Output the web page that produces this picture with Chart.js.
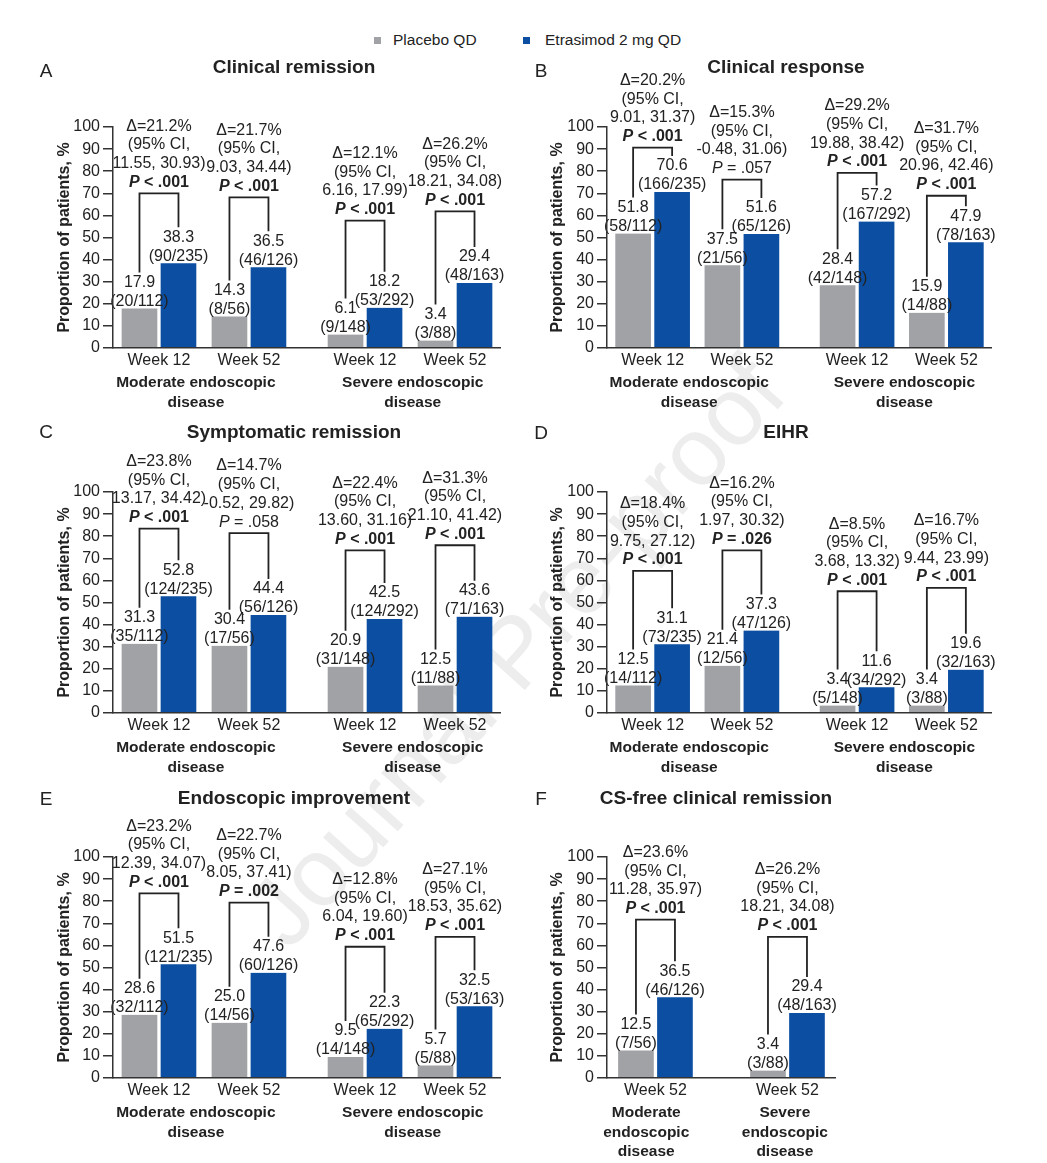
<!DOCTYPE html>
<html>
<head>
<meta charset="utf-8">
<script src="https://cdn.jsdelivr.net/npm/chart.js@4.4.0/dist/chart.umd.min.js"></script>
<style>
  body { margin: 0; background: #fff; }
  #page { position: relative; width: 1047px; height: 1163px; overflow: hidden; font-family: 'Liberation Sans', Arial, sans-serif; color: #222; }
  canvas { position: absolute; z-index: 1; }
  #watermark { position: absolute; left: 140px; top: 597px; font-size: 97px; line-height: 110px; white-space: nowrap; color: #ededed; transform: rotate(-48deg); transform-origin: 50% 50%; z-index: 0; }
  .key { position: absolute; top: 37px; width: 7px; height: 7px; }
  .keyText { position: absolute; top: 30px; font-size: 15.5px; line-height: 20px; }
</style>
</head>
<body>
<div id="page">
  <div id="watermark">Journal Pre-proof</div>
  <div class="key" style="left:374px;background:#a1a2a6"></div>
  <div class="keyText" style="left:393px">Placebo QD</div>
  <div class="key" style="left:523px;background:#0b4ea2"></div>
  <div class="keyText" style="left:545px">Etrasimod 2 mg QD</div>
  <canvas id="chartA" width="520" height="370" style="left:0px;top:50px"></canvas>
  <canvas id="chartB" width="527" height="370" style="left:520px;top:50px"></canvas>
  <canvas id="chartC" width="520" height="370" style="left:0px;top:415px"></canvas>
  <canvas id="chartD" width="527" height="370" style="left:520px;top:415px"></canvas>
  <canvas id="chartE" width="520" height="383" style="left:0px;top:780px"></canvas>
  <canvas id="chartF" width="527" height="383" style="left:520px;top:780px"></canvas>
</div>
<script>
const weekLabels = ['Week 12', 'Week 52', 'Week 12', 'Week 52'];
const groupLabels = [['Moderate endoscopic', 'disease'], ['Severe endoscopic', 'disease']];
const csFreeWeekLabels = ['Week 52', 'Week 52'];
const csFreeGroupLabels = [['Moderate', 'endoscopic', 'disease'], ['Severe', 'endoscopic', 'disease']];

// A - Clinical remission
const remissionPlacebo = [17.9, 14.3, 6.1, 3.4];
const remissionPlaceboN = ['20/112', '8/56', '9/148', '3/88'];
const remissionEtrasimod = [38.3, 36.5, 18.2, 29.4];
const remissionEtrasimodN = ['90/235', '46/126', '53/292', '48/163'];
const remissionDelta = [21.2, 21.7, 12.1, 26.2];
const remissionCI = [[11.55, 30.93], [9.03, 34.44], [6.16, 17.99], [18.21, 34.08]];
const remissionP = ['< .001', '< .001', '< .001', '< .001'];
const remissionBracket = [70, 68.2, 57.6, 61.8];

// B - Clinical response
const responsePlacebo = [51.8, 37.5, 28.4, 15.9];
const responsePlaceboN = ['58/112', '21/56', '42/148', '14/88'];
const responseEtrasimod = [70.6, 51.6, 57.2, 47.9];
const responseEtrasimodN = ['166/235', '65/126', '167/292', '78/163'];
const responseDelta = [20.2, 15.3, 29.2, 31.7];
const responseCI = [[9.01, 31.37], [-0.48, 31.06], [19.88, 38.42], [20.96, 42.46]];
const responseP = ['< .001', '= .057', '< .001', '< .001'];
const responseBracket = [90.7, 76.2, 79.2, 68.9];

// C - Symptomatic remission
const symptomPlacebo = [31.3, 30.4, 20.9, 12.5];
const symptomPlaceboN = ['35/112', '17/56', '31/148', '11/88'];
const symptomEtrasimod = [52.8, 44.4, 42.5, 43.6];
const symptomEtrasimodN = ['124/235', '56/126', '124/292', '71/163'];
const symptomDelta = [23.8, 14.7, 22.4, 31.3];
const symptomCI = [[13.17, 34.42], [-0.52, 29.82], [13.60, 31.16], [21.10, 41.42]];
const symptomP = ['< .001', '= .058', '< .001', '< .001'];
const symptomBracket = [83.4, 81.4, 73.6, 75.9];

// D - EIHR
const eihrPlacebo = [12.5, 21.4, 3.4, 3.4];
const eihrPlaceboN = ['14/112', '12/56', '5/148', '3/88'];
const eihrEtrasimod = [31.1, 37.3, 11.6, 19.6];
const eihrEtrasimodN = ['73/235', '47/126', '34/292', '32/163'];
const eihrDelta = [18.4, 16.2, 8.5, 16.7];
const eihrCI = [[9.75, 27.12], [1.97, 30.32], [3.68, 13.32], [9.44, 23.99]];
const eihrP = ['< .001', '= .026', '< .001', '< .001'];
const eihrBracket = [64.3, 73.6, 55.1, 56.6];

// E - Endoscopic improvement
const endoPlacebo = [28.6, 25.0, 9.5, 5.7];
const endoPlaceboN = ['32/112', '14/56', '14/148', '5/88'];
const endoEtrasimod = [51.5, 47.6, 22.3, 32.5];
const endoEtrasimodN = ['121/235', '60/126', '65/292', '53/163'];
const endoDelta = [23.2, 22.7, 12.8, 27.1];
const endoCI = [[12.39, 34.07], [8.05, 37.41], [6.04, 19.60], [18.53, 35.62]];
const endoP = ['< .001', '= .002', '< .001', '< .001'];
const endoBracket = [83.5, 79.4, 59.4, 63.9];

// F - CS-free clinical remission
const csFreePlacebo = [12.5, 3.4];
const csFreePlaceboN = ['7/56', '3/88'];
const csFreeEtrasimod = [36.5, 29.4];
const csFreeEtrasimodN = ['46/126', '48/163'];
const csFreeDelta = [23.6, 26.2];
const csFreeCI = [[11.28, 35.97], [18.21, 34.08]];
const csFreeP = ['< .001', '< .001'];
const csFreeBracket = [71.7, 63.9];

const FONT = "'Liberation Sans', Arial, sans-serif";
const GRAY = '#a1a2a6';
const BLUE = '#0b4ea2';
const INK = '#222';

Chart.defaults.font.family = FONT;
Chart.defaults.color = INK;

// category centres on the x axis (wider gap between moderate and severe)
const fourPos = [0, 1, 2.29, 3.29];
const twoPos = [0, 1];

function annotatePlugin(p) {
    return {
        id: 'annotate',
        afterDatasetsDraw(chart) {
            const ctx = chart.ctx;
            const yScale = chart.scales.y;
            const grayBars = chart.getDatasetMeta(0).data;
            const blueBars = chart.getDatasetMeta(1).data;
            ctx.save();
            ctx.fillStyle = INK;
            ctx.strokeStyle = INK;
            ctx.textAlign = 'center';
            ctx.textBaseline = 'middle';
            grayBars.forEach((g, i) => {
                const b = blueBars[i];
                ctx.font = '16px ' + FONT;
                [[g, p.placebo[i], p.placeboN[i]], [b, p.etrasimod[i], p.etrasimodN[i]]].forEach(([bar, v, n]) => {
                    ctx.fillText(v.toFixed(1), bar.x, bar.y - 26);
                    ctx.fillText('(' + n + ')', bar.x, bar.y - 7);
                });

                // bracket
                const top = yScale.getPixelForValue(p.bracket[i]);
                ctx.beginPath();
                ctx.moveTo(g.x, g.y - 36);
                ctx.lineTo(g.x, top);
                ctx.lineTo(b.x, top);
                ctx.lineTo(b.x, b.y - 36);
                ctx.lineWidth = 1.8;
                ctx.stroke();

                // difference, CI and P value above the bracket
                const cx = (g.x + b.x) / 2;
                const lines = [
                    'Δ=' + p.delta[i].toFixed(1) + '%',
                    '(95% CI,',
                    p.ci[i][0].toFixed(2) + ', ' + p.ci[i][1].toFixed(2) + ')'
                ];
                lines.forEach((t, k) => ctx.fillText(t, cx, top - 11 - (3 - k) * 18.7));

                const rest = ' ' + p.p[i];
                const sig = parseFloat(p.p[i].replace(/[^0-9.]/g, '')) < 0.05;
                const weight = sig ? 'bold ' : '';
                const fontP = 'italic ' + weight + '16px ' + FONT;
                const fontRest = weight + '16px ' + FONT;
                ctx.font = fontP;
                const wP = ctx.measureText('P').width;
                ctx.font = fontRest;
                const wRest = ctx.measureText(rest).width;
                const x0 = cx - (wP + wRest) / 2;
                ctx.textAlign = 'left';
                ctx.font = fontP;
                ctx.fillText('P', x0, top - 11);
                ctx.font = fontRest;
                ctx.fillText(rest, x0 + wP, top - 11);
                ctx.textAlign = 'center';
            });
            ctx.restore();
        },
        afterDraw(chart) {
            const ctx = chart.ctx;
            const area = chart.chartArea;
            const xScale = chart.scales.x;
            ctx.save();
            ctx.fillStyle = INK;
            ctx.textAlign = 'center';
            ctx.textBaseline = 'middle';
            ctx.font = 'bold 19px ' + FONT;
            ctx.fillText(p.title, p.titleX, p.titleY);
            ctx.font = '19px ' + FONT;
            ctx.fillText(p.letter, p.letterX, p.letterY);
            ctx.font = 'bold 15.5px ' + FONT;
            p.groups.forEach((lines, g) => {
                const gx = xScale.getPixelForValue(p.groupPos[g]);
                lines.forEach((t, k) => ctx.fillText(t, gx, area.bottom + 35 + k * 19.5));
            });
            ctx.restore();
        }
    };
}

function makePanel(id, p) {
    const canvas = document.getElementById(id);
    const pos = p.positions;
    return new Chart(canvas, {
        type: 'bar',
        data: {
            datasets: [{
                label: 'Placebo QD',
                data: pos.map((x, i) => ({ x: x, y: p.placebo[i] })),
                backgroundColor: GRAY
            }, {
                label: 'Etrasimod 2 mg QD',
                data: pos.map((x, i) => ({ x: x, y: p.etrasimod[i] })),
                backgroundColor: BLUE
            }]
        },
        options: {
            responsive: false,
            animation: false,
            layout: { padding: { top: p.areaTop, right: canvas.width - p.areaRight, bottom: 0, left: 0 } },
            datasets: {
                bar: {
                    barThickness: 39,
                    borderWidth: { left: 2, right: 2, top: 0, bottom: 0 },
                    borderColor: 'rgba(0,0,0,0)'
                }
            },
            plugins: {
                legend: { display: false },
                tooltip: { enabled: false }
            },
            scales: {
                x: {
                    type: 'linear',
                    offset: false,
                    min: p.xRange[0],
                    max: p.xRange[1],
                    afterBuildTicks: (s) => { s.ticks = pos.map(v => ({ value: v })); },
                    afterFit: (s) => { s.height = canvas.height - p.areaBottom; },
                    ticks: {
                        autoSkip: false,
                        maxRotation: 0,
                        padding: 3,
                        font: { size: 16 },
                        callback: (v, i) => p.weeks[i]
                    },
                    grid: { display: false, drawTicks: false },
                    border: { display: true, color: '#333', width: 1.5, z: 1 }
                },
                y: {
                    min: 0,
                    max: 100,
                    afterFit: (s) => { s.width = p.areaLeft; },
                    ticks: { stepSize: 10, autoSkip: false, padding: 3, font: { size: 16 } },
                    grid: { drawOnChartArea: false, drawTicks: true, tickLength: 10, color: '#333', lineWidth: 1.5 },
                    border: { display: true, color: '#333', width: 1.5, z: 1 },
                    title: {
                        display: true,
                        text: 'Proportion of patients, %',
                        font: { size: 16, weight: 'bold' },
                        padding: { top: p.yTitleX - 9.6, bottom: 0 }
                    }
                }
            }
        },
        plugins: [annotatePlugin(p)]
    });
}

const leftCol = { areaLeft: 113, areaRight: 500, yTitleX: 65, letterX: 46, titleX: 294 };
const rightCol = { areaLeft: 87, areaRight: 471, yTitleX: 38, letterX: 21, titleX: 266 };
const fourGroups = { positions: fourPos, xRange: [-0.511, 3.79], groupPos: [0.41, 2.82], weeks: weekLabels, groups: groupLabels };

makePanel('chartA', Object.assign({}, leftCol, fourGroups, {
    areaTop: 77, areaBottom: 298, title: 'Clinical remission', letter: 'A', titleY: 18, letterY: 22,
    placebo: remissionPlacebo, placeboN: remissionPlaceboN, etrasimod: remissionEtrasimod, etrasimodN: remissionEtrasimodN,
    delta: remissionDelta, ci: remissionCI, p: remissionP, bracket: remissionBracket
}));
makePanel('chartB', Object.assign({}, rightCol, fourGroups, {
    areaTop: 77, areaBottom: 298, title: 'Clinical response', letter: 'B', titleY: 18, letterY: 22,
    placebo: responsePlacebo, placeboN: responsePlaceboN, etrasimod: responseEtrasimod, etrasimodN: responseEtrasimodN,
    delta: responseDelta, ci: responseCI, p: responseP, bracket: responseBracket
}));
makePanel('chartC', Object.assign({}, leftCol, fourGroups, {
    areaTop: 77, areaBottom: 298, title: 'Symptomatic remission', letter: 'C', titleY: 18, letterY: 18,
    placebo: symptomPlacebo, placeboN: symptomPlaceboN, etrasimod: symptomEtrasimod, etrasimodN: symptomEtrasimodN,
    delta: symptomDelta, ci: symptomCI, p: symptomP, bracket: symptomBracket
}));
makePanel('chartD', Object.assign({}, rightCol, fourGroups, {
    areaTop: 77, areaBottom: 298, title: 'EIHR', letter: 'D', titleY: 18, letterY: 19,
    placebo: eihrPlacebo, placeboN: eihrPlaceboN, etrasimod: eihrEtrasimod, etrasimodN: eihrEtrasimodN,
    delta: eihrDelta, ci: eihrCI, p: eihrP, bracket: eihrBracket
}));
makePanel('chartE', Object.assign({}, leftCol, fourGroups, {
    areaTop: 77, areaBottom: 298, title: 'Endoscopic improvement', letter: 'E', titleY: 19, letterY: 20,
    placebo: endoPlacebo, placeboN: endoPlaceboN, etrasimod: endoEtrasimod, etrasimodN: endoEtrasimodN,
    delta: endoDelta, ci: endoCI, p: endoP, bracket: endoBracket
}));
makePanel('chartF', Object.assign({}, rightCol, {
    areaRight: 315, titleX: 196, positions: twoPos, xRange: [-0.367, 1.36], groupPos: [-0.07, 0.98],
    weeks: csFreeWeekLabels, groups: csFreeGroupLabels,
    areaTop: 77, areaBottom: 298, title: 'CS-free clinical remission', letter: 'F', titleY: 19, letterY: 20,
    placebo: csFreePlacebo, placeboN: csFreePlaceboN, etrasimod: csFreeEtrasimod, etrasimodN: csFreeEtrasimodN,
    delta: csFreeDelta, ci: csFreeCI, p: csFreeP, bracket: csFreeBracket
}));
</script>
</body>
</html>
